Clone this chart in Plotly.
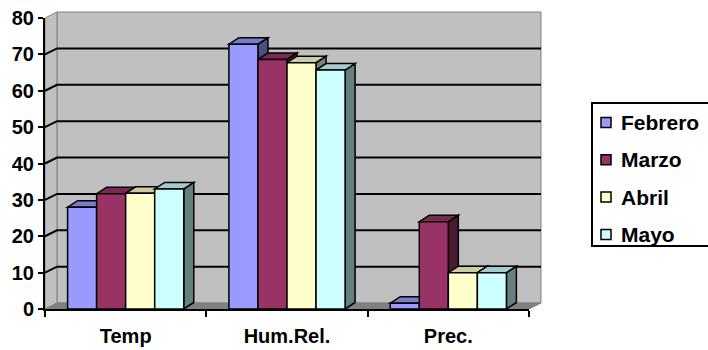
import plotly.graph_objects as go

# ---------------- data ----------------
categories = ["Temp", "Hum.Rel.", "Prec."]
months = ["Febrero", "Marzo", "Abril", "Mayo"]
febrero = [28.0, 72.8, 1.6]
marzo = [31.7, 68.6, 24.0]
abril = [31.8, 67.7, 10.0]
mayo = [33.0, 65.7, 10.0]
y_ticks = [0, 10, 20, 30, 40, 50, 60, 70, 80]

series = [febrero, marzo, abril, mayo]
front_colors = ["#9999FF", "#993366", "#FFFFCC", "#CCFFFF"]
top_colors = ["#7A7ACC", "#7A2952", "#CCCCA3", "#A3CCCC"]
side_colors = ["#4C4C80", "#4C1933", "#80806A", "#668080"]

# ---------------- geometry (styles) ----------------
W, H = 708, 350
ML, MR, MT, MB = 45, 179, 18, 41
PW, PH = W - ML - MR, H - MT - MB
YMAX = 80
BARGAP = 0.28
NCAT = len(categories)


def px_to_paper_x(px):
    return (px - ML) / PW


def px_to_paper_y(py):
    return (H - MB - py) / PH


# oblique depth for bars (pixels -> data units)
BAR_DX_PX, BAR_DY_PX = 10, 6.5
bdx = BAR_DX_PX * NCAT / PW
bdy = BAR_DY_PX * YMAX / PH
# depth for the walls (pixels -> paper units)
WALL_DX_PX, WALL_DY_PX = 12, 6
wdx = WALL_DX_PX / PW
wdy = WALL_DY_PX / PH

fig = go.Figure()
for name, vals, col in zip(months, series, front_colors):
    fig.add_trace(go.Bar(
        x=categories, y=vals, name=name, showlegend=False,
        marker=dict(color=col, line=dict(color="black", width=1.5)),
        hoverinfo="skip",
    ))

shapes = []
# back wall, left wall, floor (paper coords)
shapes.append(dict(type="rect", xref="paper", yref="paper", layer="below",
                   x0=wdx, x1=1 + wdx, y0=wdy, y1=1 + wdy,
                   fillcolor="#C0C0C0", line=dict(color="#808080", width=1)))
shapes.append(dict(type="path", xref="paper", yref="paper", layer="below",
                   path=f"M0,0 L{wdx},{wdy} L{wdx},{1 + wdy} L0,1 Z",
                   fillcolor="#C0C0C0", line=dict(color="#808080", width=1)))
shapes.append(dict(type="path", xref="paper", yref="paper", layer="below",
                   path=f"M0,0 L1,0 L{1 + wdx},{wdy} L{wdx},{wdy} Z",
                   fillcolor="#808080", line=dict(color="#808080", width=1)))
# gridlines on the walls
for v in y_ticks:
    if v == 0 or v == YMAX:
        continue
    yp = v / YMAX
    shapes.append(dict(type="path", xref="paper", yref="paper", layer="below",
                       path=f"M0,{yp} L{wdx},{yp + wdy} L{1 + wdx},{yp + wdy}",
                       line=dict(color="black", width=2)))

# 3D faces of bars (data coords)
bw = (1 - BARGAP) / len(series)
for k in range(NCAT):
    for j, vals in enumerate(series):
        v = vals[k]
        left = k - (1 - BARGAP) / 2 + j * bw
        right = left + bw
        shapes.append(dict(type="path", xref="x", yref="y", layer="between",
                           path=(f"M{right},0 L{right + bdx},{bdy} L{right + bdx},{v + bdy} "
                                 f"L{right},{v} Z"),
                           fillcolor=side_colors[j], line=dict(color="black", width=1.5)))
        shapes.append(dict(type="path", xref="x", yref="y", layer="between",
                           path=(f"M{left},{v} L{right},{v} L{right + bdx},{v + bdy} "
                                 f"L{left + bdx},{v + bdy} Z"),
                           fillcolor=top_colors[j], line=dict(color="black", width=1.5)))

font_family = "Liberation Sans, Arial, sans-serif"

# ---------------- legend (drawn by hand) ----------------
LEG_L, LEG_T, LEG_B, LEG_R = 592, 103, 246, 712
LEG_Y0, LEG_STEP = 122.5, 37.3
annotations = []
shapes.append(dict(type="rect", xref="paper", yref="paper", layer="above",
                   x0=px_to_paper_x(LEG_L), x1=px_to_paper_x(LEG_R),
                   y0=px_to_paper_y(LEG_B), y1=px_to_paper_y(LEG_T),
                   fillcolor="white", line=dict(color="black", width=2)))
for i, (name, col) in enumerate(zip(months, front_colors)):
    cy = LEG_Y0 + i * LEG_STEP
    shapes.append(dict(type="rect", xref="paper", yref="paper", layer="above",
                       x0=px_to_paper_x(601), x1=px_to_paper_x(611),
                       y0=px_to_paper_y(cy + 5), y1=px_to_paper_y(cy - 5),
                       fillcolor=col, line=dict(color="black", width=1.5)))
    annotations.append(dict(xref="paper", yref="paper",
                            x=px_to_paper_x(619), y=px_to_paper_y(cy),
                            xanchor="left", yanchor="middle", showarrow=False,
                            text=name,
                            font=dict(size=21, weight="bold", family=font_family,
                                      color="black")))

fig.update_layout(
    width=W, height=H,
    margin=dict(l=ML, r=MR, t=MT, b=MB, pad=0, autoexpand=False),
    paper_bgcolor="white",
    plot_bgcolor="rgba(0,0,0,0)",
    barmode="group", bargap=BARGAP, bargroupgap=0,
    shapes=shapes,
    annotations=annotations,
    showlegend=False,
    hovermode=False,
    font=dict(family=font_family, color="black"),
    xaxis=dict(
        type="category", range=[-0.5, NCAT - 0.5], automargin=False,
        showline=True, linecolor="black", linewidth=2,
        ticks="outside", tickson="boundaries", ticklen=6, tickwidth=2, tickcolor="black",
        showgrid=False, zeroline=False,
        tickfont=dict(size=20, weight="bold", family=font_family),
        ticklabelstandoff=8,
    ),
    yaxis=dict(
        range=[0, YMAX], tickvals=y_ticks, automargin=False,
        showline=True, linecolor="black", linewidth=2,
        ticks="outside", ticklen=5, tickwidth=2, tickcolor="black",
        showgrid=False, zeroline=False,
        tickfont=dict(size=20, weight="bold", family=font_family),
    ),
)

fig.write_html("out.html")
